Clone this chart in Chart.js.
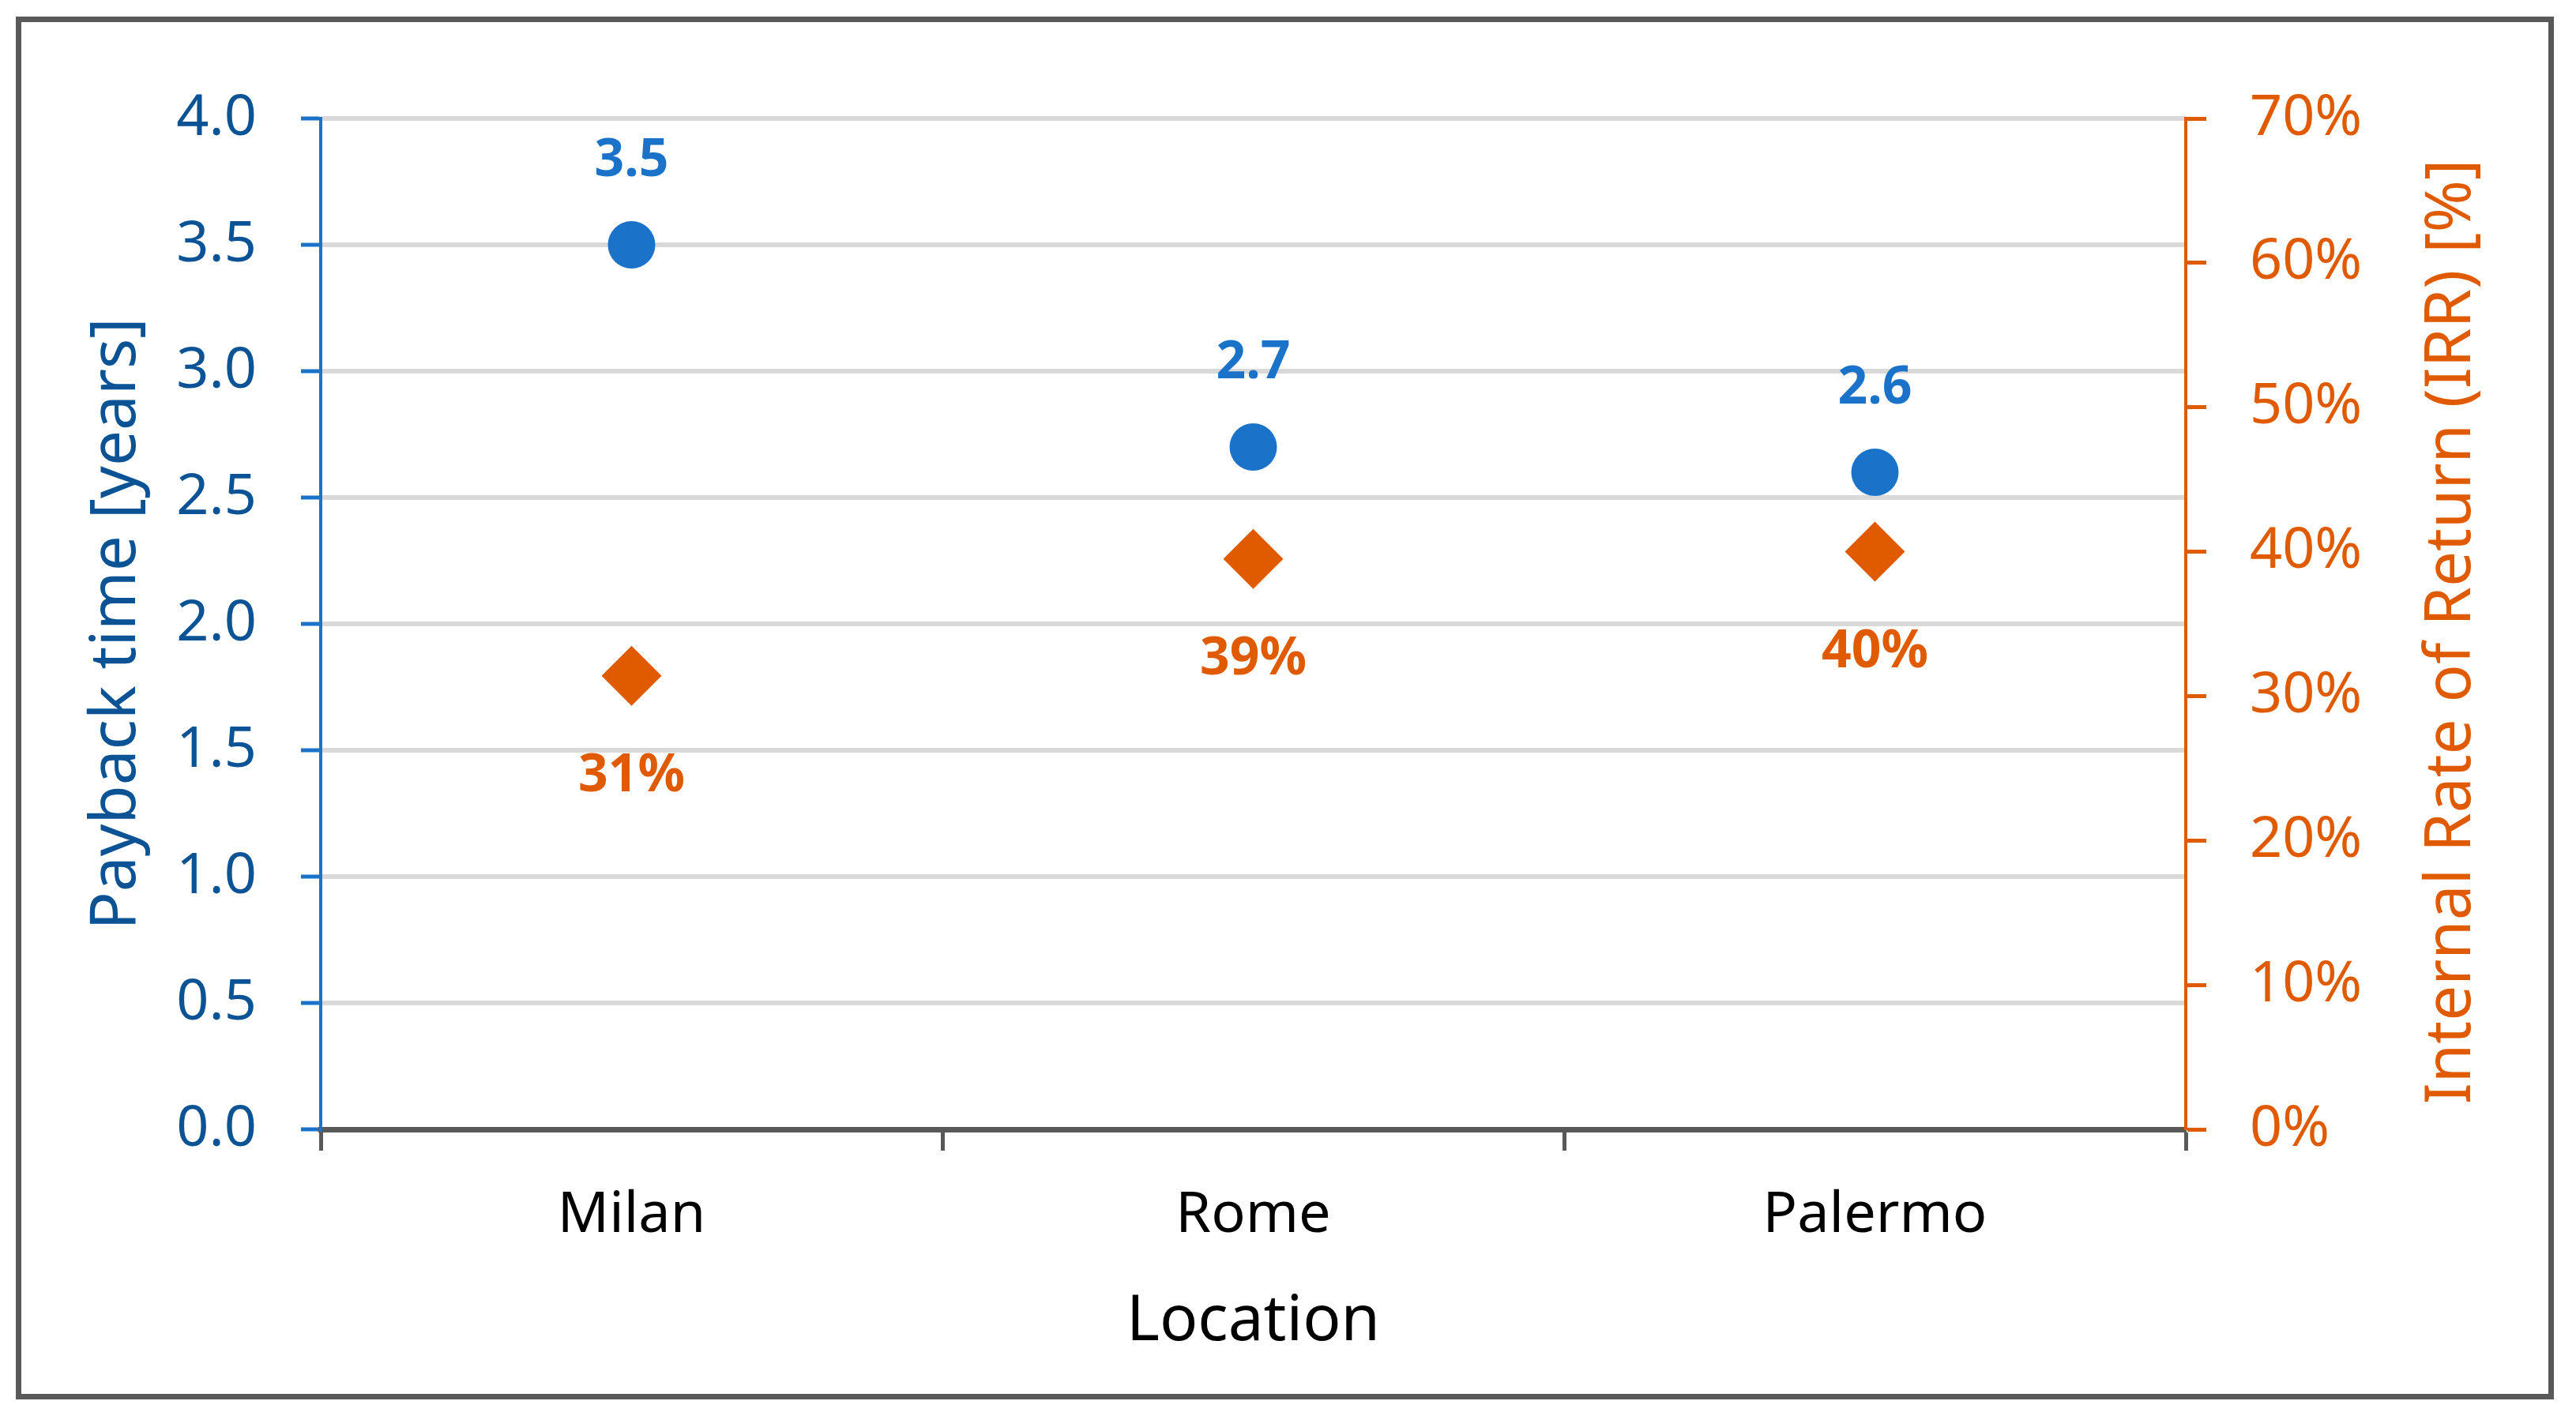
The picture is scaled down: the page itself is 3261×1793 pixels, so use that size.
<!DOCTYPE html>
<html>
<head>
<meta charset="utf-8">
<script src="https://cdn.jsdelivr.net/npm/chart.js@4/dist/chart.umd.min.js"></script>
<style>
  html, body { margin: 0; padding: 0; background: #ffffff; overflow: hidden; }
  #wrap { position: relative; width: 3261px; height: 1793px; }
  #frame { position: absolute; left: 20px; top: 21px; width: 3213px; height: 1751px;
           border: 7px solid #595959; box-sizing: border-box; pointer-events: none; }
</style>
</head>
<body>
<div id="wrap">
  <canvas id="c" width="3261" height="1793"></canvas>
  <div id="frame"></div>
</div>
<script>
// ---- data ----
const locations = ["Milan", "Rome", "Palermo"];
const paybackYears = [3.5, 2.7, 2.6];
const irrPercent = [31.4, 39.5, 40.0];
const paybackLabels = ["3.5", "2.7", "2.6"];
const irrLabels = ["31%", "39%", "40%"];

// ---- styles ----
const BLUE = "#1a73c8";
const BLUE_DARK = "#0b5394";
const ORANGE = "#e05a00";
const GREY_AXIS = "#595959";
const GRID = "#d9d9d9";
const FONT = "'Noto Sans', 'Open Sans', sans-serif";
Chart.defaults.font.family = FONT;

const dataLabelPlugin = {
  id: "dataLabels",
  afterDatasetsDraw(chart) {
    const ctx = chart.ctx;
    ctx.save();
    ctx.font = "bold 66px " + FONT;
    ctx.textAlign = "center";
    ctx.textBaseline = "alphabetic";
    const m0 = chart.getDatasetMeta(0);
    ctx.fillStyle = BLUE;
    m0.data.forEach((el, i) => ctx.fillText(paybackLabels[i], el.x, el.y - 87));
    const m1 = chart.getDatasetMeta(1);
    ctx.fillStyle = ORANGE;
    m1.data.forEach((el, i) => ctx.fillText(irrLabels[i], el.x, el.y + 146));
    ctx.restore();
  }
};

const rightTitlePlugin = {
  id: "rightTitle",
  afterDraw(chart) {
    const ctx = chart.ctx;
    const s = chart.scales.y1;
    const ca = chart.chartArea;
    ctx.save();
    ctx.translate(s.right - 157, (ca.top + ca.bottom) / 2 + 10);
    ctx.rotate(-Math.PI / 2);
    ctx.font = "80px " + FONT;
    ctx.fillStyle = ORANGE;
    ctx.textAlign = "center";
    ctx.textBaseline = "middle";
    ctx.fillText("Internal Rate of Return (IRR) [%]", 0, 0);
    ctx.restore();
  }
};

new Chart(document.getElementById("c"), {
  type: "line",
  data: {
    labels: locations,
    datasets: [
      {
        label: "Payback time",
        data: paybackYears,
        yAxisID: "y",
        showLine: false,
        pointStyle: "circle",
        pointRadius: 30,
        pointHoverRadius: 30,
        pointBackgroundColor: BLUE,
        pointBorderColor: BLUE,
        pointBorderWidth: 0
      },
      {
        label: "IRR",
        data: irrPercent,
        yAxisID: "y1",
        showLine: false,
        pointStyle: "rectRot",
        pointRadius: 38,
        pointHoverRadius: 38,
        pointBackgroundColor: ORANGE,
        pointBorderColor: ORANGE,
        pointBorderWidth: 0
      }
    ]
  },
  options: {
    responsive: false,
    devicePixelRatio: 1,
    animation: false,
    events: [],
    layout: { padding: { top: 150, left: 0, right: 0, bottom: 0 } },
    plugins: { legend: { display: false }, tooltip: { enabled: false } },
    scales: {
      x: {
        type: "category",
        offset: true,
        afterFit(s) { s.height = 363; },
        grid: {
          offset: true,
          drawOnChartArea: false,
          drawTicks: true,
          tickLength: 27,
          tickWidth: 5,
          tickColor: GREY_AXIS
        },
        border: { display: true, color: GREY_AXIS, width: 7 },
        ticks: { color: "#000000", font: { size: 72 }, padding: 39, maxRotation: 0 },
        title: {
          display: true, text: "Location", color: "#000000",
          font: { size: 80 }, padding: { top: 0, bottom: 71 }
        }
      },
      y: {
        position: "left",
        min: 0, max: 4,
        afterFit(s) { s.width = 406; },
        ticks: {
          stepSize: 0.5,
          color: BLUE_DARK,
          font: { size: 72 },
          padding: 56,
          callback: (v) => Number(v).toFixed(1)
        },
        grid: {
          color: (c) => (c.tick && c.tick.value === 0 ? "rgba(0,0,0,0)" : GRID),
          lineWidth: 6,
          drawTicks: true,
          tickLength: 25,
          tickWidth: 5,
          tickColor: BLUE
        },
        border: { display: true, color: BLUE, width: 4 },
        title: {
          display: true, text: "Payback time [years]", color: BLUE_DARK,
          font: { size: 80 }, padding: { top: 100, bottom: 0 }
        }
      },
      y1: {
        position: "right",
        min: 0, max: 70,
        afterFit(s) { s.width = 494; },
        ticks: {
          stepSize: 10,
          color: ORANGE,
          font: { size: 72 },
          padding: 55,
          callback: (v) => v + "%"
        },
        grid: {
          drawOnChartArea: false,
          drawTicks: true,
          tickLength: 26,
          tickWidth: 5,
          tickColor: ORANGE
        },
        border: { display: true, color: ORANGE, width: 4 },
        title: { display: false }
      }
    }
  },
  plugins: [dataLabelPlugin, rightTitlePlugin]
});
</script>
</body>
</html>
